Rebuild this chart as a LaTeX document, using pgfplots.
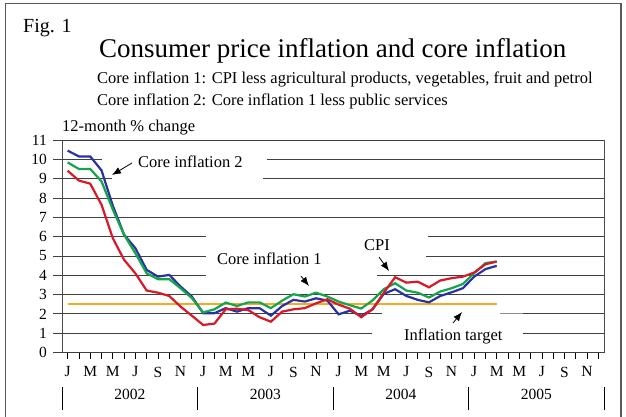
\documentclass[border=0pt]{standalone}
\usepackage{fontspec}
\setmainfont{Liberation Serif}
\usepackage{pgfplots}
\usepackage{pgfplotstable}
\pgfplotsset{compat=1.18}
\usetikzlibrary{arrows.meta}

\definecolor{cblue}{RGB}{40,50,160}
\definecolor{cgreen}{RGB}{20,165,75}
\definecolor{cred}{RGB}{215,25,40}
\definecolor{corange}{RGB}{248,170,35}

% month index (0 = Jan 2002), CPI, core 1, core 2
\pgfplotstableread{
m cpi core1 core2
0 9.41 9.84 10.45
1 8.90 9.50 10.15
2 8.74 9.50 10.15
3 7.65 8.86 9.43
4 5.92 7.40 7.60
5 4.80 6.09 6.10
6 4.10 5.14 5.40
7 3.21 4.10 4.28
8 3.10 3.80 3.93
9 2.93 3.80 4.02
10 2.38 3.33 3.42
11 1.91 2.82 2.90
12 1.43 2.08 2.04
13 1.50 2.24 2.04
14 2.24 2.59 2.30
15 2.27 2.41 2.12
16 2.20 2.60 2.30
17 1.83 2.60 2.30
18 1.60 2.30 1.91
19 2.12 2.69 2.41
20 2.24 3.02 2.73
21 2.30 2.90 2.64
22 2.55 3.10 2.81
23 2.76 2.90 2.69
24 2.48 2.64 1.98
25 2.27 2.45 2.17
26 1.83 2.28 1.90
27 2.24 2.70 2.24
28 3.10 3.28 3.04
29 3.90 3.59 3.28
30 3.62 3.21 2.93
31 3.67 3.10 2.73
32 3.38 2.85 2.60
33 3.73 3.16 2.93
34 3.85 3.33 3.12
35 3.93 3.55 3.33
36 4.14 4.11 3.93
37 4.57 4.63 4.32
38 4.71 4.71 4.49
}\datatable

\pgfplotstableread{
m t
0 2.5
38 2.5
}\targettable

\begin{document}
\begin{tikzpicture}
\useasboundingbox (0pt,0pt) rectangle (626pt,416pt);
\draw[black!65, line width=1.3pt] (5.5pt,-3pt) -- (5.5pt,412.5pt) -- (621pt,412.5pt) -- (621pt,-3pt);

\node[anchor=base west, inner sep=0pt, font=\fontsize{20}{24}\selectfont] at (23pt,383pt) {Fig. 1};
\node[anchor=base west, inner sep=0pt, font=\fontsize{27}{32}\selectfont] at (99pt,359pt) {Consumer price inflation and core inflation};
\node[anchor=base west, inner sep=0pt, font=\fontsize{16.5}{20}\selectfont] at (97pt,332pt) {Core inflation 1: CPI less agricultural products, vegetables, fruit and petrol};
\node[anchor=base west, inner sep=0pt, font=\fontsize{16.5}{20}\selectfont] at (97pt,311pt) {Core inflation 2: Core inflation 1 less public services};
\node[anchor=base west, inner sep=0pt, font=\fontsize{16.5}{20}\selectfont] at (62pt,285pt) {12-month \% change};

\begin{axis}[
  at={(62pt,63.4pt)}, anchor=south west,
  scale only axis, width=542pt, height=212.6pt,
  xmin=-0.5, xmax=47.5, ymin=0, ymax=11,
  clip=false,
  axis line style={black!70, line width=0.9pt},
  tick align=outside,
  xtick pos=bottom, ytick pos=left,
  xtick={0,2,...,46},
  minor xtick={1,3,...,47},
  xticklabels={J,M,M,J,S,N,J,M,M,J,S,N,J,M,M,J,S,N,J,M,M,J,S,N},
  ytick={0,...,11},
  major tick length=6pt, minor tick length=6pt,
  xtick style={black, line width=0.8pt},
  ytick style={draw=none},
  tick label style={font=\fontsize{15.5}{18}\selectfont},
  xticklabel style={inner sep=0pt, anchor=north, yshift=-8pt},
  yticklabel style={inner sep=0pt, anchor=east, xshift=-9pt},
  /pgf/number format/assume math mode=true,
]
% gridlines (broken where labels sit)
\tikzset{gl/.style={black!75, line width=0.9pt}}
\foreach \k in {0,3,7,8,11} {
  \edef\tmp{\noexpand\draw[gl] (axis cs:-0.5,\k) ++(-9pt,0pt) -- (axis cs:47.5,\k);}\tmp
}
\draw[gl] (axis cs:-0.5,10) ++(-9pt,0pt) -- (axis cs:3.04,10);
\draw[gl] (axis cs:17.65,10) -- (axis cs:47.5,10);
\draw[gl] (axis cs:-0.5,9) ++(-9pt,0pt) -- (axis cs:3.93,9);
\draw[gl] (axis cs:17.30,9) -- (axis cs:47.5,9);
\draw[gl] (axis cs:-0.5,6) ++(-9pt,0pt) -- (axis cs:12.25,6);
\draw[gl] (axis cs:31.91,6) -- (axis cs:47.5,6);
\draw[gl] (axis cs:-0.5,5) ++(-9pt,0pt) -- (axis cs:12.25,5);
\draw[gl] (axis cs:31.74,5) -- (axis cs:47.5,5);
\draw[gl] (axis cs:-0.5,4) ++(-9pt,0pt) -- (axis cs:12.25,4);
\draw[gl] (axis cs:27.40,4) -- (axis cs:47.5,4);
\draw[gl] (axis cs:-0.5,2) ++(-9pt,0pt) -- (axis cs:27.84,2);
\draw[black!45, line width=0.9pt] (axis cs:38.3,2) -- (axis cs:40.3,2);
\draw[gl] (axis cs:40.3,2) -- (axis cs:47.5,2);
\draw[gl] (axis cs:-0.5,1) ++(-9pt,0pt) -- (axis cs:26.95,1);
\draw[gl] (axis cs:40.33,1) -- (axis cs:47.5,1);

\addplot[corange, line width=2.2pt, no markers] table[x=m, y=t] {\targettable};
\addplot[cblue, line width=2.2pt, no markers] table[x=m, y=core2] {\datatable};
\addplot[cgreen, line width=2.2pt, no markers] table[x=m, y=core1] {\datatable};
\addplot[cred, line width=2.2pt, no markers] table[x=m, y=cpi] {\datatable};

% year labels and separators
\foreach \s in {-0.5,11.5,23.5,35.5,47.5} {
  \edef\tmp{\noexpand\draw[black, line width=0.8pt] (axis cs:\s,0) ++(0pt,-34.4pt) -- ++(0pt,-23pt);}\tmp
}
\node[anchor=base, inner sep=0pt, font=\fontsize{15.5}{18}\selectfont] at (axis cs:5.5,0) [yshift=-47pt] {2002};
\node[anchor=base, inner sep=0pt, font=\fontsize{15.5}{18}\selectfont] at (axis cs:17.5,0) [yshift=-47pt] {2003};
\node[anchor=base, inner sep=0pt, font=\fontsize{15.5}{18}\selectfont] at (axis cs:29.5,0) [yshift=-47pt] {2004};
\node[anchor=base, inner sep=0pt, font=\fontsize{15.5}{18}\selectfont] at (axis cs:41.5,0) [yshift=-47pt] {2005};
\end{axis}

% annotations
\tikzset{ann/.style={anchor=west, inner sep=0pt, font=\fontsize{16.5}{20}\selectfont},
         arr/.style={-{Latex[length=9pt,width=7pt]}, line width=0.8pt, black}}
\node[ann] at (138pt,254pt) {Core inflation 2};
\draw[arr] (132pt,253pt) -- (112pt,241pt);
\node[ann] at (217pt,157pt) {Core inflation 1};
\draw[arr] (301pt,140pt) -- (309pt,130pt);
\node[ann] at (364pt,171pt) {CPI};
\draw[arr] (379pt,159pt) -- (389pt,145pt);
\node[ann] at (404pt,80pt) {Inflation target};
\draw[arr] (453pt,93pt) -- (462pt,104pt);
\end{tikzpicture}
\end{document}
